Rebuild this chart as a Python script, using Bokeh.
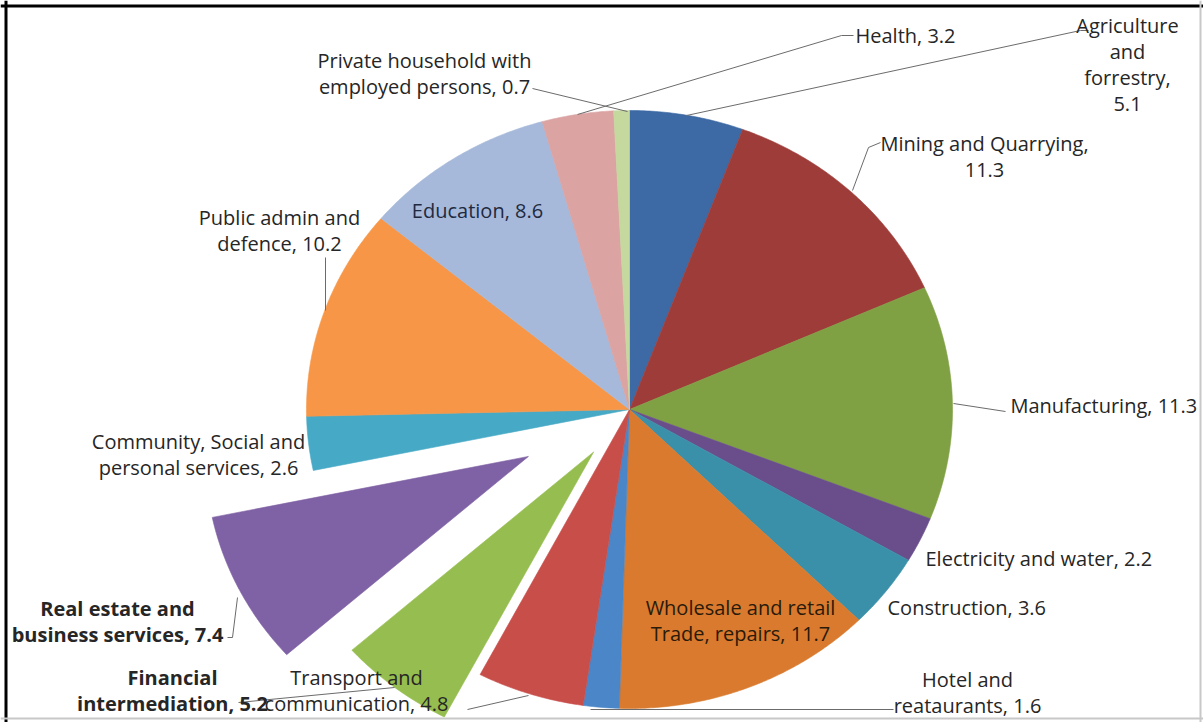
import numpy as np
from bokeh.plotting import figure
from bokeh.models import ColumnDataSource, Range1d, Span
from bokeh.core.properties import value
from bokeh.embed import file_html
from bokeh.resources import INLINE

# ---------------- data ----------------
sectors = [
    "Agriculture and forrestry", "Mining and Quarrying", "Manufacturing",
    "Electricity and water", "Construction", "Wholesale and retail Trade, repairs",
    "Hotel and reataurants", "Transport and communication", "Financial intermediation",
    "Real estate and business services", "Community, Social and personal services",
    "Public admin and defence", "Education", "Health",
    "Private household with employed persons",
]
shares = [5.1, 11.3, 11.3, 2.2, 3.6, 11.7, 1.6, 4.8, 5.2, 7.4, 2.6, 10.2, 8.6, 3.2, 0.7]
colors = ["#3D69A4", "#9E3C39", "#7FA043", "#6A4E8C", "#3A90A9", "#D97A2E",
          "#4A86C8", "#C84E4A", "#96BD4F", "#7F61A5", "#46A9C6", "#F79646",
          "#A6B9DA", "#DBA3A2", "#C5D89E"]
explode = [0, 0, 0, 0, 0, 0, 0, 0, 0.18, 0.35, 0, 0, 0, 0, 0]

# label line wraps ({v} = value)
label_wraps = [
    "Agriculture|and|forrestry,|{v}", "Mining and Quarrying,|{v}", "Manufacturing, {v}",
    "Electricity and water, {v}", "Construction, {v}", "Wholesale and retail|Trade, repairs, {v}",
    "Hotel and|reataurants, {v}", "Transport and|communication, {v}", "Financial|intermediation, {v}",
    "Real estate and|business services, {v}", "Community, Social and|personal services, {v}",
    "Public admin and|defence, {v}", "Education, {v}", "Health, {v}",
    "Private household with|employed persons, {v}",
]
# label layout: anchor x, first-line y, alignment, bold
label_pos = [
    (1127, 25, "center", False), (984, 143, "center", False), (1010, 405, "left", False),
    (925, 558, "left", False), (887, 607, "left", False), (740, 607, "center", False),
    (967, 679, "center", False), (356, 677, "center", False), (172, 677, "center", True),
    (117, 608, "center", True), (198, 441, "center", False), (279, 217, "center", False),
    (477, 210, "center", False), (855, 35, "left", False), (424, 60, "center", False),
]
LINE_H = 26

# leader lines (layout)
leaders = [
    [(1088, 30), (1080, 30), (686, 115)],            # Agriculture
    [(880, 142), (868, 147), (852, 190)],            # Mining
    [(953, 403), (1005, 411)],                       # Manufacturing
    [(590, 709), (893, 709)],                        # Hotel
    [(467, 709), (528, 695)],                        # Transport
    [(238, 702), (394, 687)],                        # Financial
    [(227, 637), (232, 637), (237, 597)],            # Real estate
    [(325, 257), (325, 310)],                        # Public admin
    [(853, 35), (841, 35), (577, 114)],              # Health
    [(532, 88), (627, 111)],                         # Private household
]

# ---------------- geometry ----------------
W, H = 1203, 722
cx, cy, rx, ry = 629, 409, 323, 299

total = sum(shares)
edges = np.concatenate([[0], np.cumsum(shares)]) / total * 2 * np.pi
xs, ys = [], []
for i in range(len(shares)):
    a0, a1 = edges[i], edges[i + 1]
    mid = (a0 + a1) / 2
    ox = cx + explode[i] * rx * np.sin(mid)
    oy = cy - explode[i] * ry * np.cos(mid)
    t = np.linspace(a0, a1, max(4, int(np.degrees(a1 - a0) * 2)))
    xs.append([ox] + list(ox + rx * np.sin(t)))
    ys.append([oy] + list(oy - ry * np.cos(t)))

src = ColumnDataSource(dict(xs=xs, ys=ys, color=colors, name=sectors))

p = figure(width=W, height=H, x_range=Range1d(0, W), y_range=Range1d(H, 0),
           output_backend="svg", toolbar_location=None, min_border=0)
p.axis.visible = False
p.grid.visible = False
p.outline_line_color = None
p.background_fill_color = "white"
p.border_fill_color = "white"

p.patches("xs", "ys", source=src, fill_color="color", line_color="color", line_width=0.6)

p.multi_line([[pt[0] for pt in l] for l in leaders], [[pt[1] for pt in l] for l in leaders],
             line_color="#6b6b6b", line_width=1)

# labels
norm = dict(x=[], y=[], t=[], a=[], c=[])
bold = dict(x=[], y=[], t=[], a=[], c=[])
for i, tmpl in enumerate(label_wraps):
    lx, ly, al, b = label_pos[i]
    lines = tmpl.format(v=shares[i]).split("|")
    d = bold if b else norm
    for k, ln in enumerate(lines):
        d["x"].append(lx)
        d["y"].append(ly + k * LINE_H)
        d["t"].append(ln)
        d["a"].append(al)
        d["c"].append("#2a1a0a" if i == 5 else ("#1f2a40" if i == 12 else "#262626"))

p.text("x", "y", text="t", text_align="a", text_baseline="middle", text_color="c",
       text_font=value("Open Sans"), text_font_size="20px", source=ColumnDataSource(norm))
p.text("x", "y", text="t", text_align="a", text_baseline="middle", text_color="c",
       text_font=value("Open Sans"), text_font_size="20px", text_font_style="bold",
       source=ColumnDataSource(bold))

# frame
p.add_layout(Span(location=5.5, dimension="height", line_color="black", line_width=3))
p.add_layout(Span(location=5.5, dimension="width", line_color="black", line_width=3))
p.add_layout(Span(location=1200, dimension="height", line_color="#c8c8c8", line_width=2))
p.add_layout(Span(location=718, dimension="width", line_color="#c8c8c8", line_width=2))

open("out.html", "w").write(file_html(p, INLINE))
